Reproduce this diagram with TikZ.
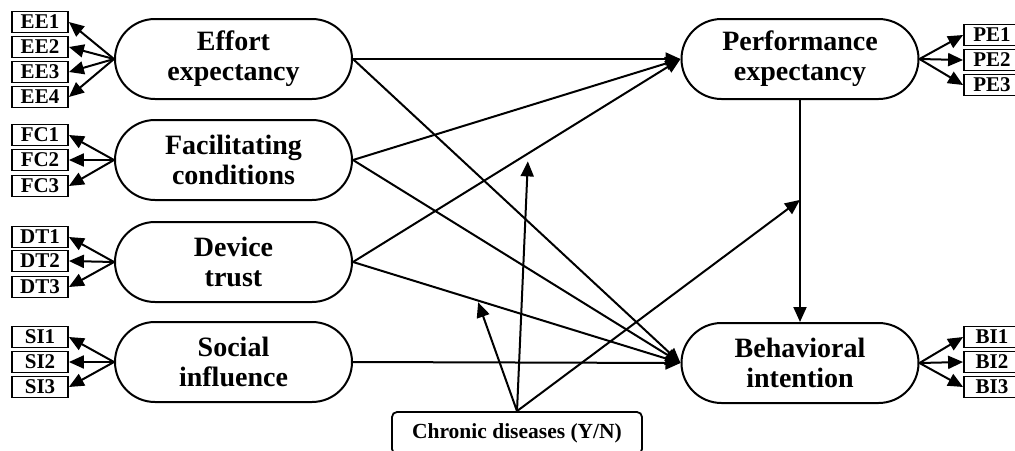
\documentclass[tikz,border=0pt]{standalone}
\usepackage{fontspec}
\setmainfont{Liberation Serif}
\usetikzlibrary{arrows.meta,shapes.misc}
\tikzstyle{construct}=[rounded rectangle,draw,line width=2pt,minimum width=237pt,minimum height=80pt,inner sep=0pt,align=center,font=\fontsize{28}{30}\selectfont\bfseries]
\tikzstyle{item}=[rectangle,draw,line width=1.8pt,minimum width=56pt,minimum height=21pt,inner sep=0pt,font=\fontsize{21}{21}\selectfont\bfseries]
\tikzstyle{control}=[rectangle,rounded corners=5pt,draw,line width=1.8pt,minimum width=250pt,minimum height=42pt,font=\fontsize{21.5}{22}\selectfont\bfseries]
\tikzstyle{edge} = [draw,line width=2pt,-{Triangle[length=15pt,width=13pt]}]

\begin{document}
\begin{tikzpicture}[x=1pt,y=-1pt]

    \useasboundingbox (0,0) rectangle (1015,450);

     \foreach \x/\y/\name/\txt in {233.5/59/ee/{Effort\\expectancy}, 233.5/160/fc/{Facilitating\\conditions}, 233.5/262/dt/{Device\\trust}, 233.5/362/si/{Social\\influence}, 800/59/pe/{Performance\\expectancy}, 800/363/bi/{Behavioral\\intention}}
        \node[construct] (\name) at (\x,\y) {\txt};

     \foreach \x/\y/\name in {40/22/EE1, 40/47/EE2, 40/72/EE3, 40/97/EE4, 40/135/FC1, 40/160/FC2, 40/186/FC3, 40/237/DT1, 40/261/DT2, 40/287/DT3, 40/337/SI1, 40/362/SI2, 40/387/SI3, 992/35/PE1, 992/60/PE2, 992/85/PE3, 992/337/BI1, 992/362/BI2, 992/387/BI3}
        \node[item] (\name) at (\x,\y) {\name};

    \foreach \source/ \dest in {ee/EE1, ee/EE2, ee/EE3, ee/EE4, fc/FC1, fc/FC2, fc/FC3, dt/DT1, dt/DT2, dt/DT3, si/SI1, si/SI2, si/SI3}
        \path[edge] (\source.west) -- (\dest.east);

    \foreach \source/ \dest in {pe/PE1, pe/PE2, pe/PE3, bi/BI1, bi/BI2, bi/BI3}
        \path[edge] (\source.east) -- (\dest.west);

    \foreach \source/ \dest in {ee/pe, fc/pe, dt/pe, ee/bi, fc/bi, dt/bi, si/bi}
        \path[edge] (\source.east) -- (\dest.west);
    \path[edge] (pe) -- (bi);

%    moderator
    \path (dt.east) -- coordinate[pos=0.38] (m1) (bi.west);
    \path (dt.east) -- coordinate[pos=0.535] (m2) (pe.west);
    \path (pe) -- coordinate[pos=0.45] (m3) (bi);

    \node[control] (cd) at (517,433) {Chronic diseases (Y/N)};
    \path[edge, shorten >=2pt] (cd.north) -- (m1);
    \path[edge, shorten >=8pt] (cd.north) -- (m2);
    \path[edge] (cd.north) -- (m3);

\end{tikzpicture}
\end{document}
